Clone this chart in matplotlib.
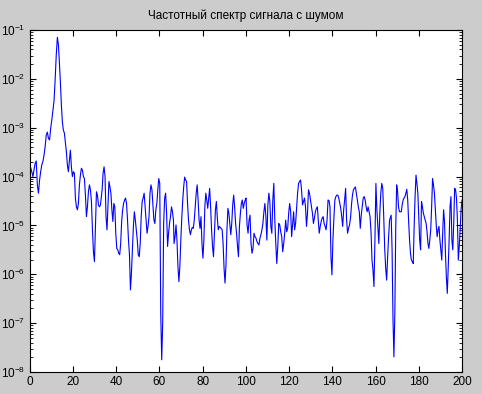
import numpy as np
import matplotlib
matplotlib.use("Agg")
import matplotlib.pyplot as plt
from matplotlib.ticker import FixedLocator, LogFormatterSciNotation, NullFormatter

plt.rcParams['font.family'] = ['Liberation Sans', 'DejaVu Sans']
plt.rcParams['mathtext.default'] = 'regular'

title = "Частотный спектр сигнала с шумом"

# log10 of the spectrum magnitude, by frequency range
seg1a_freq = (0.45, 12.8)
seg1a_log = [-3.82, -3.9, -4.0, -3.87, -3.73, -3.68, -4.17, -4.34, -4.07, -3.9, -3.76, -3.69,
             -3.56, -3.39, -3.15, -3.09, -3.22, -3.25, -3.01, -2.84, -2.64, -2.45, -2.02, -1.51,
             -1.15]
seg1b_freq = (13.26, 33.2)
seg1b_log = [-1.29, -1.65, -2.06, -2.53, -2.88, -3.05, -3.11, -3.29, -3.49, -3.76, -3.9,
             -3.69, -3.46, -3.8, -4.0, -3.9, -3.93, -4.44, -4.62, -4.68, -4.55, -4.17, -3.97,
             -3.83, -3.87, -4.0, -4.04, -4.38, -4.82, -4.62, -4.31, -4.17, -4.27, -4.51, -5.09,
             -5.54, -5.74, -5.06, -4.31, -4.38, -4.58, -4.62, -4.58, -4.38]
seg2_freq = (33.5, 66.5)
seg2_log = [-4.27, -3.93, -3.80, -4.0, -4.82, -5.09, -4.62, -4.10, -4.21, -4.34, -4.68, -4.92,
            -4.55, -4.62, -5.16, -5.47, -5.50, -5.57, -5.60, -5.37, -4.92, -4.68, -4.55, -4.48,
            -4.44, -4.55, -4.89, -5.30, -5.60, -6.32, -5.98, -5.50, -5.02, -4.72, -4.89, -5.09,
            -5.30, -5.60, -5.64, -5.37, -4.82, -4.51, -4.44, -4.34, -4.62, -4.89, -5.16, -5.02,
            -4.82, -4.34, -4.17, -4.27, -4.58, -4.89, -4.96, -4.68, -4.55, -4.27, -4.04, -4.14,
            -6.80, -7.75, -7.00, -4.96, -4.44, -4.34, -4.75, -5.43, -5.16, -4.96, -4.82, -4.62,
            -4.72, -4.89]
seg3_freq = (66.8, 99.7)
seg3_log = [-5.37, -5.23, -4.99, -5.30, -5.84, -6.15, -5.84, -5.30, -4.85, -4.48, -4.21, -4.01,
            -4.07, -4.10, -4.55, -4.89, -5.09, -5.19, -5.09, -5.04, -5.06, -4.89, -4.62, -4.34,
            -4.17, -4.48, -4.89, -5.06, -4.82, -5.37, -5.67, -5.30, -4.62, -4.34, -4.48, -4.65,
            -4.44, -4.24, -4.62, -5.09, -5.43, -5.64, -5.16, -4.68, -4.51, -4.85, -5.09, -5.02,
            -5.04, -5.06, -5.09, -5.37, -5.88, -6.18, -5.81, -5.09, -4.65, -4.75, -4.96, -5.19,
            -4.96, -4.58, -4.38, -4.62, -4.96, -5.16, -5.43, -5.64, -5.02, -4.75, -4.55, -4.48,
            -4.65, -4.55, -4.48]
seg4_freq = (100.1, 133.1)
seg4_log = [-4.44, -4.99, -5.16, -4.89, -4.79, -5.37, -5.57, -5.47, -5.16, -5.23, -5.26, -5.33,
            -5.37, -5.40, -5.26, -5.19, -5.09, -4.96, -4.72, -4.55, -4.82, -5.30, -4.58, -4.34,
            -4.51, -5.02, -5.16, -4.48, -4.14, -4.89, -5.37, -5.78, -5.43, -4.96, -4.99, -5.13,
            -5.23, -5.54, -5.37, -5.16, -4.89, -5.13, -5.06, -4.75, -4.55, -4.72, -5.23, -4.96,
            -4.72, -5.09, -4.96, -4.65, -4.34, -4.14, -4.10, -4.07, -4.27, -4.58, -4.51, -4.44,
            -4.62, -5.02, -4.75, -4.27, -4.34, -4.48, -4.62, -4.75, -4.96, -4.85, -4.72, -4.65,
            -4.62]
seg5_freq = (133.5, 166.5)
seg5_log = [-4.89, -5.16, -5.02, -4.92, -4.85, -4.82, -4.96, -5.02, -5.09, -4.89, -4.48, -4.49,
            -4.62, -5.64, -6.01, -5.30, -4.85, -4.48, -4.41, -4.38, -4.38, -4.44, -4.55, -4.65,
            -4.82, -5.02, -4.68, -4.48, -4.24, -4.89, -5.16, -5.06, -4.99, -4.85, -4.58, -4.38,
            -4.27, -4.24, -4.21, -4.34, -4.48, -4.62, -4.72, -5.06, -4.79, -4.62, -4.44, -4.41,
            -4.48, -4.62, -4.72, -4.62, -4.72, -4.82, -5.13, -5.71, -5.91, -6.25, -5.30, -4.14,
            -4.68, -5.02, -5.37, -4.75, -4.34, -4.14, -4.24, -4.82, -5.47, -5.88, -6.12, -5.64,
            -5.23, -4.89]
seg6_freq = (166.8, 200.0)
seg6_log = [-4.85, -4.79, -5.50, -6.93, -7.69, -6.80, -5.02, -4.17, -4.31, -4.62, -4.72, -4.72,
            -4.72, -4.58, -4.48, -4.44, -4.41, -4.34, -4.26, -4.48, -4.92, -5.30, -5.57, -5.71,
            -5.74, -5.78, -5.02, -4.41, -3.97, -4.14, -4.34, -4.82, -5.30, -5.50, -4.51, -4.62,
            -4.75, -4.82, -4.89, -4.96, -5.13, -5.37, -5.47, -5.30, -5.09, -4.62, -4.04, -4.17,
            -4.34, -4.68, -4.99, -5.23, -5.09, -5.02, -5.30, -5.50, -5.71, -5.16, -4.68, -4.92,
            -5.57, -6.05, -6.39, -5.88, -5.30, -4.62, -4.41, -5.30, -5.50, -4.96, -4.24, -4.27,
            -4.44, -4.89, -5.71, -5.43, -5.09, -4.68, -4.48]

segments = [(seg1a_freq, seg1a_log), (seg1b_freq, seg1b_log), (seg2_freq, seg2_log),
            (seg3_freq, seg3_log), (seg4_freq, seg4_log), (seg5_freq, seg5_log),
            (seg6_freq, seg6_log)]
freq = np.concatenate([np.linspace(f[0], f[1], len(v)) for f, v in segments])
spectrum = 10.0 ** np.concatenate([np.array(v) for f, v in segments])

xticks = [0, 20, 40, 60, 80, 100, 120, 140, 160, 180, 200]
ydecades = [-8, -7, -6, -5, -4, -3, -2, -1]

fig = plt.figure(figsize=(4.82, 3.94), dpi=100, facecolor='#cccccc')
ax = fig.add_axes([29.7 / 482, 22 / 394, 432.3 / 482, 342 / 394])
ax.set_facecolor('white')
ax.plot(freq, spectrum, color='#0000ff', linewidth=0.8)
ax.set_yscale('log')
ax.set_xlim(0, 200)
ax.set_ylim(1e-8, 1e-1)
ax.set_xticks(xticks)
ax.set_xticklabels([str(t) for t in xticks])
major = [10.0 ** d for d in ydecades]
minor = [m * 10.0 ** d for d in ydecades[:-1] for m in range(2, 10)]
ax.yaxis.set_major_locator(FixedLocator(major))
ax.yaxis.set_major_formatter(LogFormatterSciNotation())
ax.yaxis.set_minor_locator(FixedLocator(minor))
ax.yaxis.set_minor_formatter(NullFormatter())
ax.tick_params(which='both', direction='in', top=True, right=True, labelsize=8.5,
               colors='black', pad=3)
ax.tick_params(which='major', length=4, width=0.8)
ax.tick_params(which='minor', length=2, width=0.6)
for lbl in ax.get_yticklabels():
    lbl.set_verticalalignment('center_baseline')
for s in ax.spines.values():
    s.set_linewidth(0.8)
ax.set_title(title, fontsize=8.5, pad=8)
fig.savefig('out.png', dpi=100, facecolor=fig.get_facecolor())
